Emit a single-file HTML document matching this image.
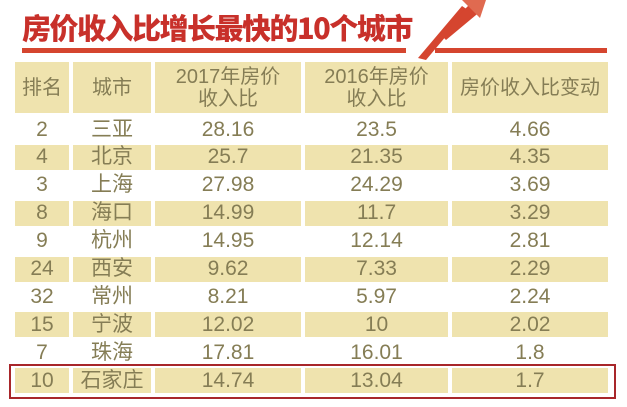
<!DOCTYPE html>
<html><head><meta charset="utf-8"><style>
body{margin:0;width:627px;height:407px;background:#fff;position:relative;overflow:hidden;font-family:"Liberation Sans","Noto Sans CJK SC",sans-serif;}
.t{position:absolute;left:22px;top:9px;font-size:29px;line-height:36px;font-weight:900;color:#c8302a;letter-spacing:-1.5px;font-family:"Noto Sans CJK SC","WenQuanYi Zen Hei",sans-serif;}
.bar{position:absolute;height:5px;background:#d5452f;}
.c{position:absolute;display:flex;align-items:center;justify-content:center;color:#857d55;font-size:20px;line-height:22px;text-align:center;}
.bg{background:#efe3ae;}
</style></head><body>
<div class="t">房价收入比增长最快的10个城市</div>
<div class="bar" style="left:22px;top:48px;width:384px"></div>
<div class="bar" style="left:435px;top:48px;width:172px"></div>
<svg style="position:absolute;left:410px;top:0" width="80" height="62"><polygon points="8,58 52,6 58,10 16,60" fill="#d5452f"/><polygon points="30,34 64,0 72,0 72,10 36,40" fill="#d5452f"/><polygon points="52,0 76,0 70,18" fill="#e06a50"/></svg>
<div id="g"></div>
<div style="position:absolute;left:9px;top:364px;width:603px;height:31px;border:2px solid #a8262a;"></div>
<script>
var cols=[[15,54],[73,78],[155,146],[305,143],[452,156]];
var hdr=["排名","城市","2017年房价<br>收入比","2016年房价<br>收入比","房价收入比变动"];
var rows=[["2","三亚","28.16","23.5","4.66"],["4","北京","25.7","21.35","4.35"],["3","上海","27.98","24.29","3.69"],["8","海口","14.99","11.7","3.29"],["9","杭州","14.95","12.14","2.81"],["24","西安","9.62","7.33","2.29"],["32","常州","8.21","5.97","2.24"],["15","宁波","12.02","10","2.02"],["7","珠海","17.81","16.01","1.8"],["10","石家庄","14.74","13.04","1.7"]];
var h="";
cols.forEach(function(c,i){h+='<div class="c bg" style="left:'+c[0]+'px;top:62px;width:'+c[1]+'px;height:51px">'+hdr[i]+'</div>';});
rows.forEach(function(r,j){var y=116+j*27.9;cols.forEach(function(c,i){h+='<div class="c'+(j%2?' bg':'')+'" style="left:'+c[0]+'px;top:'+(y+1)+'px;width:'+c[1]+'px;height:25px;font-size:21px">'+r[i]+'</div>';});});
document.getElementById('g').innerHTML=h;
</script>
</body></html>
